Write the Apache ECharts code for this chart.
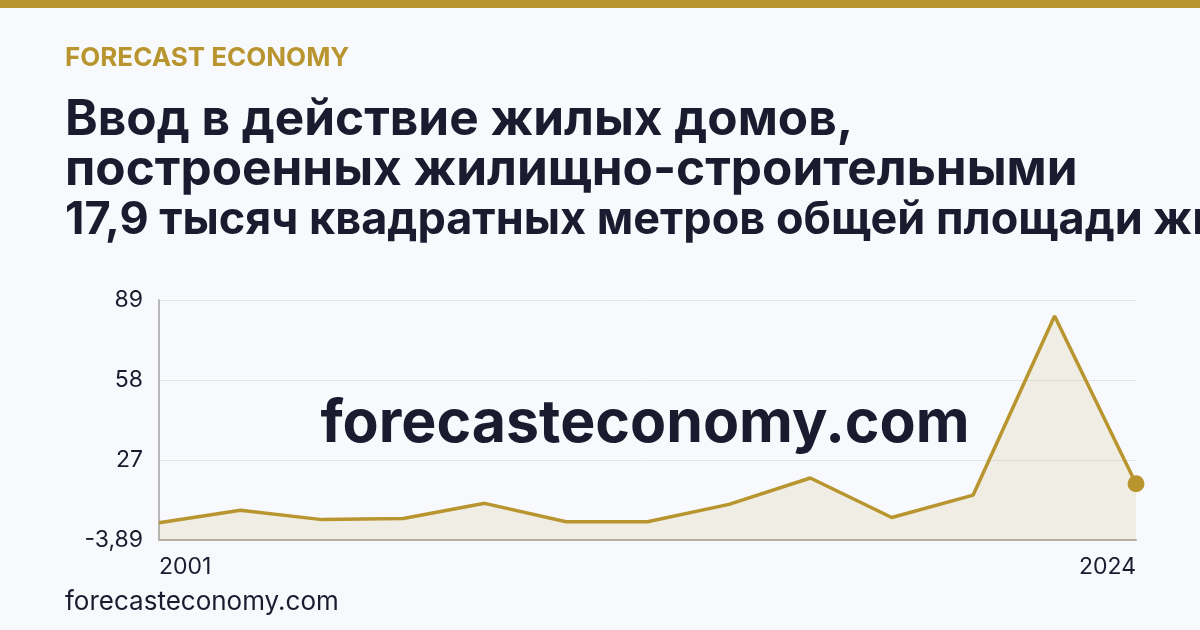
<!DOCTYPE html>
<html>
<head>
<meta charset="utf-8">
<script src="https://cdn.jsdelivr.net/npm/echarts@6/dist/echarts.min.js"></script>
<style>
html,body{margin:0;padding:0;background:#f8f9fc;}
#c{width:1200px;height:630px;}
</style>
</head>
<body>
<div id="c"></div>
<script>
const years = ['2001','2003','2005','2007','2009','2011','2013','2015','2017','2019','2021','2023','2024'];
const values = [2.8, 7.6, 4.0, 4.4, 10.3, 3.2, 3.2, 9.9, 20.1, 4.8, 13.5, 82.8, 17.9];
const yTickValues = [-3.89, 27, 58, 89];
const yTickLabels = ['-3,89', '27', '58', '89'];
const brand = 'FORECAST ECONOMY';
const titleLines = ['Ввод в действие жилых домов,', 'построенных жилищно-строительными', '17,9 тысяч квадратных метров общей площади жилых помещений'];
const watermark = 'forecasteconomy.com';
const footer = 'forecasteconomy.com';

const FONT = 'Inter, "Noto Sans", sans-serif';
const GOLD = '#b8952f';
const DARK = '#1b1b2f';

const chart = echarts.init(document.getElementById('c'), null, {renderer: 'canvas'});
const lastIdx = values.length - 1;
chart.setOption({
  backgroundColor: '#f8f9fc',
  animation: false,
  grid: {left: 159, right: 64, top: 300, bottom: 90, containLabel: false},
  xAxis: {
    type: 'category',
    data: years,
    boundaryGap: false,
    axisLine: {show: true, onZero: false, lineStyle: {color: '#b5aea3', width: 2}},
    axisTick: {show: false},
    splitLine: {show: false},
    axisLabel: {
      interval: function (i) { return i === 0 || i === lastIdx; },
      color: DARK, fontFamily: FONT, fontSize: 23, margin: 16,
      alignMinLabel: 'left', alignMaxLabel: 'right'
    },
    z: 5
  },
  yAxis: {
    type: 'value',
    min: yTickValues[0],
    max: yTickValues[yTickValues.length - 1],
    axisLine: {show: true, lineStyle: {color: '#b8b8b8', width: 2}},
    axisTick: {show: false, customValues: yTickValues},
    splitLine: {show: true, lineStyle: {color: '#e3e4ea', width: 1}},
    axisLabel: {
      customValues: yTickValues,
      color: DARK, fontFamily: FONT, fontSize: 23, margin: 16,
      formatter: function (v) {
        const i = yTickValues.indexOf(v);
        return i >= 0 ? yTickLabels[i] : '';
      }
    }
  },
  series: [{
    type: 'line',
    data: values.map((v, i) => i === lastIdx ? {value: v, symbol: 'circle', symbolSize: 17} : {value: v, symbol: 'none'}),
    showSymbol: true,
    lineStyle: {color: GOLD, width: 3.5},
    itemStyle: {color: GOLD},
    areaStyle: {color: 'rgba(184,149,47,0.16)', origin: 'start'},
    z: 3
  }],
  graphic: [
    {type: 'rect', left: 0, top: 0, shape: {width: 1200, height: 8}, style: {fill: GOLD}},
    {type: 'text', left: 65, top: 45, style: {text: brand, fill: GOLD, font: '700 26px ' + FONT}},
    {type: 'text', left: 65, top: 95, style: {text: titleLines[0], fill: DARK, font: '700 49.5px ' + FONT}},
    {type: 'text', left: 65, top: 145, style: {text: titleLines[1], fill: DARK, font: '700 49.5px ' + FONT}},
    {type: 'text', x: 65, y: 198, style: {text: titleLines[2], fill: DARK, font: '700 45px ' + FONT}},
    {type: 'text', x: 645, y: 424, style: {text: watermark, fill: DARK, font: '700 59px ' + FONT, textAlign: 'center', textVerticalAlign: 'middle'}, z: 10},
    {type: 'text', left: 65, top: 589, style: {text: footer, fill: DARK, font: '400 26px ' + FONT}}
  ]
});
</script>
</body>
</html>
